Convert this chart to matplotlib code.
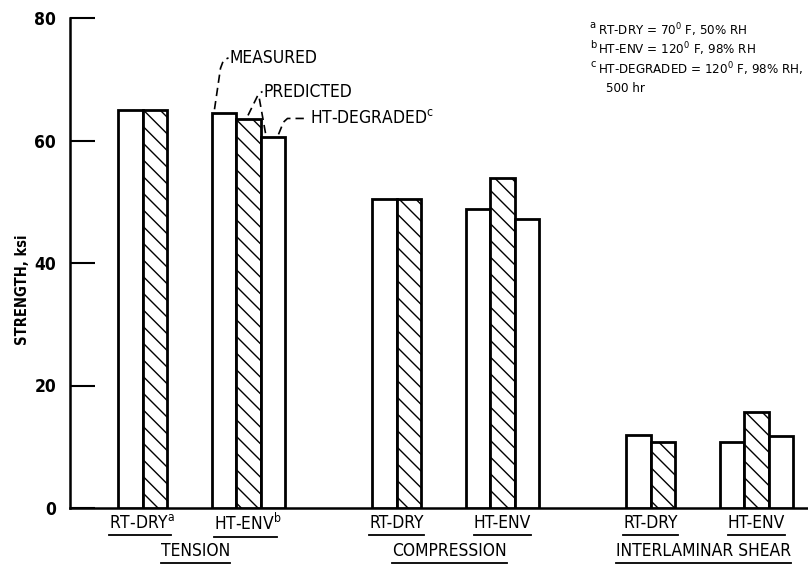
import matplotlib
matplotlib.use("Agg")
import matplotlib.pyplot as plt
from matplotlib import font_manager
from matplotlib.lines import Line2D

# the original lettering is very condensed: use a narrow face when one is installed
narrow = [f for f in font_manager.fontManager.ttflist
          if "Narrow" in f.name or "Condensed" in f.name
          or f.stretch in ("condensed", "semi-condensed", "extra-condensed")]
if narrow:
    FONT, STRETCH, FS = narrow[0].name, narrow[0].stretch, 12.5
else:
    FONT, STRETCH, FS = "Liberation Sans", "normal", 11
plt.rcParams["font.family"] = [FONT, "DejaVu Sans"]
plt.rcParams["font.stretch"] = STRETCH
plt.rcParams["mathtext.fontset"] = "custom"
plt.rcParams["mathtext.rm"] = FONT
plt.rcParams["hatch.linewidth"] = 1.0

# data
groups = ["TENSION", "COMPRESSION", "INTERLAMINAR SHEAR"]
conditions = ["RT-DRY", "HT-ENV"]
cond_marks = [["a", "b"], ["", ""], ["", ""]]
measured = [[65.0, 64.5], [50.5, 48.8], [12.0, 10.7]]
predicted = [[65.0, 63.5], [50.5, 53.8], [10.8, 15.7]]
degraded = [60.5, 47.2, 11.7]  # HT-ENV only
yticks = [0, 20, 40, 60, 80]
footnotes = [
    ("a", r"RT-DRY = 70$^{\mathrm{0}}$ F, 50% RH"),
    ("b", r"HT-ENV = 120$^{\mathrm{0}}$ F, 98% RH"),
    ("c", r"HT-DEGRADED = 120$^{\mathrm{0}}$ F, 98% RH,"),
    ("", "500 hr"),
]

# layout (x axis units ~ pixels from the y axis)
bar_w = 24.5
first = 48
cond_step = 93.5
group_step = 254

fig = plt.figure(figsize=(8.08, 5.76), dpi=100)
ax = fig.add_axes([70 / 808, 68 / 576, 738 / 808, 490 / 576])
ax.set_xlim(0, 738)
ax.set_ylim(0, 80)

bar_kw = dict(width=bar_w, align="edge", facecolor="white", edgecolor="black",
              linewidth=2.0, zorder=3)
cond_centers = []
lefts = {}
for g in range(len(groups)):
    row = []
    for c in range(len(conditions)):
        x0 = first + g * group_step + c * cond_step
        ax.bar(x0, measured[g][c], **bar_kw)
        ax.bar(x0 + bar_w, predicted[g][c], hatch="\\\\", **bar_kw)
        n = 2
        if c == 1:
            ax.bar(x0 + 2 * bar_w, degraded[g], **bar_kw)
            n = 3
        row.append(x0 + n * bar_w / 2)
        lefts[(g, c)] = x0
    cond_centers.append(row)

for s in ["top", "right"]:
    ax.spines[s].set_visible(False)
ax.spines["left"].set_linewidth(1.8)
ax.spines["bottom"].set_linewidth(1.8)
ax.set_xticks([])
ax.set_yticks(yticks)
ax.tick_params(axis="y", direction="in", length=18, width=1.5, pad=10,
               labelsize=FS)
for t in ax.get_yticklabels():
    t.set_fontweight("bold")
ax.set_ylabel("STRENGTH, ksi", fontsize=FS - 2, fontweight="bold")
ax.yaxis.set_label_coords(-40 / 738, 0.445)

# category labels under the axis, underlined later
under = []
for g in range(len(groups)):
    for c in range(len(conditions)):
        lab = conditions[c]
        if cond_marks[g][c]:
            lab += r"$^{\mathrm{%s}}$" % cond_marks[g][c]
        t = ax.text(cond_centers[g][c], -0.031, lab, transform=ax.get_xaxis_transform(),
                    ha="center", va="center", fontsize=FS)
        under.append((t, bool(cond_marks[g][c])))
    gx = (cond_centers[g][0] + cond_centers[g][1]) / 2
    t = ax.text(gx, -0.088, groups[g], transform=ax.get_xaxis_transform(),
                ha="center", va="center", fontsize=FS)
    under.append((t, False))

# leader lines for the legend words
dash = dict(color="black", lw=1.2, ls=(0, (5, 3)), clip_on=False, zorder=4)
xm = lefts[(0, 1)]
ax.plot([xm + 3, xm + 9, xm + 12, xm + 17], [measured[0][1] + 0.6, 71.8, 73.1, 73.5], **dash)
ax.text(xm + 18, 73.4, "MEASURED", fontsize=FS, va="center")
ax.plot([xm + bar_w + 12, xm + 47, xm + 51], [predicted[0][1] + 0.6, 67.6, 68.0], **dash)
ax.plot([xm + 2 * bar_w + 5, xm + 47], [degraded[0] + 0.7, 67.6], **dash)
ax.text(xm + 52, 67.9, "PREDICTED", fontsize=FS, va="center")
ax.plot([xm + 2 * bar_w + 18, xm + 72, xm + 76, xm + 93],
        [degraded[0] + 0.5, 63.0, 63.6, 63.6], **dash)
ax.text(xm + 98, 63.7, r"HT-DEGRADED$^{\mathrm{c}}$", fontsize=FS, va="center")

# footnotes, top right
for i, (mark, txt) in enumerate(footnotes):
    py = 30 + i * 19.5
    if mark:
        fig.text(596 / 808, 1 - (py - 5) / 576, mark, fontsize=FS - 4.5, va="center",
                 ha="right")
    fig.text(598 / 808 if mark else 606 / 808, 1 - py / 576, txt, fontsize=FS - 3,
             va="center")

# underline the category labels
fig.canvas.draw()
r = fig.canvas.get_renderer()
for t, has_mark in under:
    bb = t.get_window_extent(r)
    x0, x1 = bb.x0, bb.x1
    if has_mark:
        x1 = x1 - 5  # the superscript hangs past the word
    yl = bb.y0 - 3
    fig.add_artist(Line2D([x0 / 808, x1 / 808], [yl / 576, yl / 576], color="black",
                          lw=1.3, transform=fig.transFigure))

fig.savefig("out.png", dpi=100)
